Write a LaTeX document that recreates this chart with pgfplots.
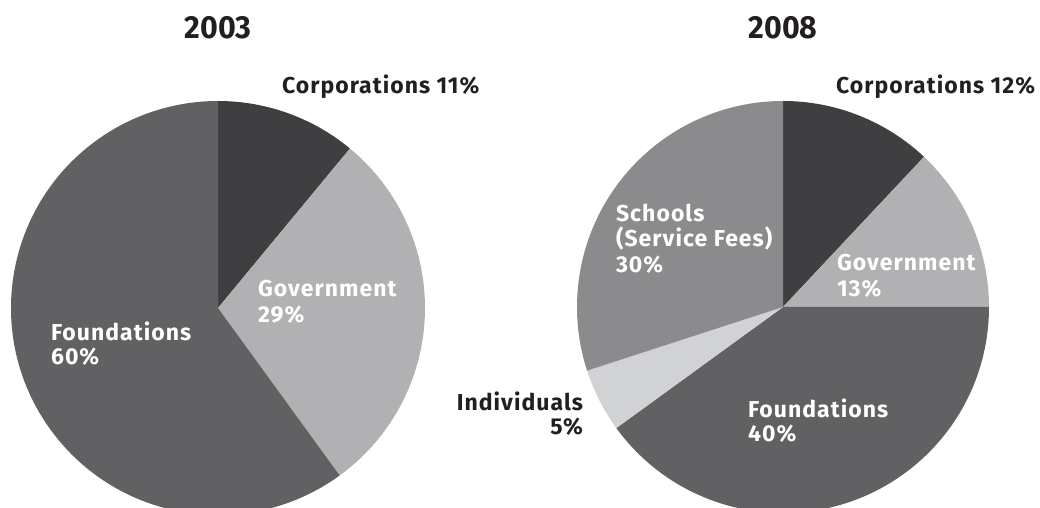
\documentclass[border=0pt]{standalone}
\usepackage{pgfplots}
\pgfplotsset{compat=1.18}
\usepackage{fontspec}
\setmainfont{Fira Sans}
\newfontfamily\titlefont{Fira Sans Bold}[FakeStretch=0.95]
\newfontfamily\labfont{Fira Sans Bold}[LetterSpace=4.5]
\definecolor{txt}{HTML}{231F20}
\definecolor{corp}{HTML}{3F3F41}
\definecolor{govt}{HTML}{B1B1B4}
\definecolor{found}{HTML}{616163}
\definecolor{school}{HTML}{8B8B8E}
\definecolor{indiv}{HTML}{D1D2D4}
\tikzset{lab/.style={inner sep=0pt, outer sep=0pt, font=\labfont\fontsize{11.5}{12}\selectfont}}
% slice: color, cx, cy, radius(pt), cumulative start %, cumulative end %
\newcommand{\slice}[6]{%
  \fill[#1] (axis cs:#2,#3) -- ++({90-3.6*#5}:#4pt)
    arc[start angle={90-3.6*#5}, end angle={90-3.6*#6}, radius=#4pt] -- cycle;}
\begin{document}
\begin{tikzpicture}
\useasboundingbox (0,0) rectangle (520pt,254pt);
\begin{axis}[
  at={(0,0)}, anchor=south west,
  width=520pt, height=254pt, scale only axis,
  xmin=0, xmax=1040, ymin=0, ymax=508,
  hide axis, clip=true,
]
% 2003: Corporations 11, Government 29, Foundations 60
\slice{corp}{218}{200}{103.5}{0}{11}
\slice{govt}{218}{200}{103.5}{11}{40}
\slice{found}{218}{200}{103.5}{40}{100}
% 2008: Corporations 12, Government 13, Foundations 40, Individuals 5, Schools 30
\slice{corp}{783}{201}{103}{0}{12}
\slice{govt}{783}{201}{103}{12}{25}
\slice{found}{783}{201}{103}{25}{65}
\slice{indiv}{783}{201}{103}{65}{70}
\slice{school}{783}{201}{103}{70}{100}

\node[lab, anchor=base, text=txt, font=\titlefont\fontsize{16}{18}\selectfont] at (axis cs:218,469) {2003};
\node[lab, anchor=base, text=txt, font=\titlefont\fontsize{16}{18}\selectfont] at (axis cs:783,469) {2008};

\node[lab, anchor=base west, text=txt] at (axis cs:282,414) {Corporations 11\%};
\node[lab, anchor=base west, text=white] at (axis cs:258,211) {Government};
\node[lab, anchor=base west, text=white] at (axis cs:258,185) {29\%};
\node[lab, anchor=base west, text=white] at (axis cs:51,167) {Foundations};
\node[lab, anchor=base west, text=white] at (axis cs:51,143) {60\%};

\node[lab, anchor=base west, text=txt] at (axis cs:836,414) {Corporations 12\%};
\node[lab, anchor=base west, text=white] at (axis cs:616,286) {Schools};
\node[lab, anchor=base west, text=white] at (axis cs:616,261) {(Service Fees)};
\node[lab, anchor=base west, text=white] at (axis cs:616,235) {30\%};
\node[lab, anchor=base west, text=white] at (axis cs:837,237) {Government};
\node[lab, anchor=base west, text=white] at (axis cs:837,211) {13\%};
\node[lab, anchor=base east, text=txt] at (axis cs:583,97) {Individuals};
\node[lab, anchor=base east, text=txt] at (axis cs:583,73) {5\%};
\node[lab, anchor=base west, text=white] at (axis cs:748,90) {Foundations};
\node[lab, anchor=base west, text=white] at (axis cs:748,66) {40\%};
\end{axis}
\end{tikzpicture}
\end{document}
